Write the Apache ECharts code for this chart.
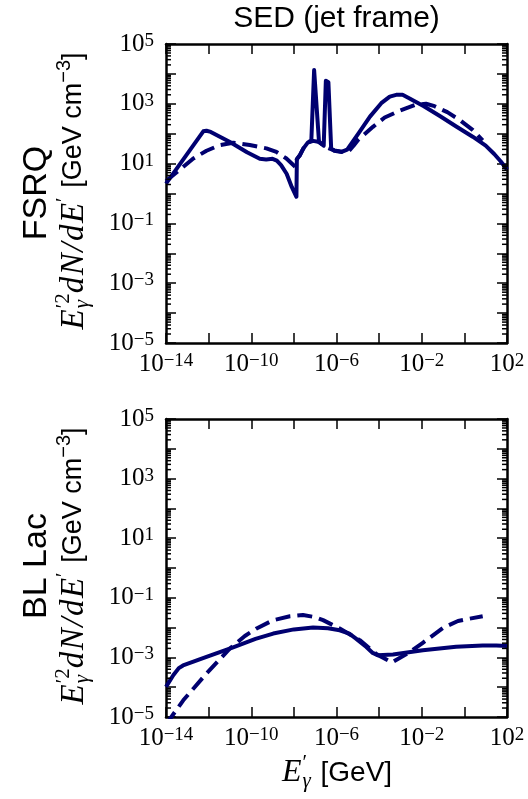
<!DOCTYPE html>
<html><head><meta charset="utf-8">
<script src="https://cdn.jsdelivr.net/npm/echarts@6/dist/echarts.min.js"></script>
<style>html,body{margin:0;padding:0;background:#fff}#c{width:528px;height:799px}</style>
</head><body><div id="c"></div>
<script>
// Values, as log10(E'/GeV) and log10(E'^2 dN/dE' / GeV cm^-3)
const fsrqSolidLogE = [-14, -12.25, -12.1, -11.9, -11.0, -10.2, -9.6, -9.3, -9.0, -8.8, -8.6, -8.34, -8.1, -7.88, -7.86, -7.71, -7.56, -7.35, -7.18, -7.05, -6.97, -6.82, -6.6, -6.5, -6.38, -6.25, -6.1, -5.76, -5.5, -5.0, -4.43, -3.9, -3.5, -3.2, -2.9, -2.57, -1.9, -1.17, -0.4, 0.39, 1.0, 1.4, 1.7, 2.0];
const fsrqSolidLogY = [0.33, 2.08, 2.1, 2.06, 1.72, 1.38, 1.16, 1.14, 1.16, 1.10, 0.95, 0.66, 0.22, -0.11, 1.15, 1.29, 1.5, 1.7, 1.78, 4.13, 4.1, 1.72, 1.6, 3.77, 3.72, 1.5, 1.43, 1.39, 1.47, 1.98, 2.57, 3.02, 3.24, 3.3, 3.3, 3.18, 2.92, 2.6, 2.25, 1.9, 1.6, 1.32, 1.08, 0.8];
const fsrqDashLogE = [-14, -13.34, -12.72, -12.1, -11.47, -10.85, -10.07, -9.29, -8.82, -8.35, -7.93, -7.86, -7.71, -7.56, -7.35, -7.1, -6.8, -6.5, -6.1, -5.76, -5.46, -5.2, -4.99, -4.29, -3.74, -3.04, -2.3, -1.8, -1.4, -0.8, -0.2, 0.4, 0.86];
const fsrqDashLogY = [0.42, 0.8, 1.17, 1.43, 1.62, 1.70, 1.62, 1.51, 1.39, 1.17, 0.89, 1.15, 1.29, 1.5, 1.7, 1.76, 1.72, 1.55, 1.44, 1.4, 1.39, 1.6, 1.79, 2.23, 2.54, 2.77, 2.97, 3.0, 2.92, 2.72, 2.45, 2.12, 1.78];
const bllacSolidLogE = [-14, -13.66, -13.4, -13.2, -12.1, -10.85, -9.8, -8.97, -8.0, -7.1, -6.4, -5.85, -5.4, -5.1, -4.6, -4.3, -4.05, -3.35, -1.95, -0.39, 0.86, 1.5, 2.0];
const bllacSolidLogY = [-3.99, -3.6, -3.36, -3.27, -2.98, -2.66, -2.38, -2.2, -2.06, -2.0, -2.02, -2.09, -2.2, -2.36, -2.65, -2.85, -2.93, -2.9, -2.76, -2.64, -2.6, -2.6, -2.62];
const bllacDashLogE = [-14, -13.19, -12.1, -11.0, -10.3, -9.75, -9.0, -8.19, -7.57, -7.0, -6.63, -5.85, -4.91, -4.13, -3.4, -2.6, -1.95, -1.0, -0.3, 0.24, 0.86];
const bllacDashLogY = [-5.25, -4.44, -3.54, -2.7, -2.28, -2.03, -1.76, -1.62, -1.58, -1.65, -1.75, -2.03, -2.42, -2.89, -3.17, -2.84, -2.51, -2.01, -1.78, -1.70, -1.62];
const xLabelExps = [-14, -10, -6, -2, 2];
const yLabelExps = [-5, -3, -1, 1, 3, 5];
const panelNames = ['FSRQ', 'BL Lac'];
const titleText = 'SED (jet frame)';

const COLOR = '#000070';
const zip = (a, b) => a.map((v, i) => [v, b[i]]);

// minor (log) tick positions on the y axes
const yMinor = [];
for (let n = -5; n < 5; n++) for (let k = 2; k <= 9; k++) yMinor.push(n + Math.log10(k));

const supTxt = v => (v < 0 ? '\u2212' + (-v) : String(v));
const labelRich = {
  b: {fontFamily: '"Liberation Serif"', fontSize: 25, lineHeight: 25, color: '#000'},
  s: {fontFamily: '"Liberation Serif"', fontSize: 19, lineHeight: 12, verticalAlign: 'top', color: '#000'}
};
function xAx(grid, pos, showLabel) {
  return {
    type: 'value', gridIndex: grid, position: pos, min: -14, max: 2, interval: 2,
    axisLine: {show: true, onZero: false, lineStyle: {color: '#000', width: 2.5}},
    axisTick: {show: true, inside: true, length: 10, lineStyle: {color: '#000', width: 1.5}},
    axisLabel: {show: showLabel, margin: 9, showMinLabel: true, showMaxLabel: true,
      formatter: v => xLabelExps.includes(Math.round(v)) ? '{b|10}{s|' + supTxt(Math.round(v)) + '}' : '',
      rich: labelRich},
    splitLine: {show: false}, minorTick: {show: false}, minorSplitLine: {show: false}
  };
}
function yAx(grid, pos, showLabel) {
  return {
    type: 'value', gridIndex: grid, position: pos, min: -5, max: 5, interval: 1,
    axisLine: {show: true, onZero: false, lineStyle: {color: '#000', width: 2.5}},
    axisTick: {show: true, inside: true, length: 10, lineStyle: {color: '#000', width: 1.5}},
    axisLabel: {show: showLabel, margin: 12, showMinLabel: true, showMaxLabel: true,
      formatter: v => yLabelExps.includes(Math.round(v)) ? '{b|10}{s|' + supTxt(Math.round(v)) + '}' : '',
      rich: labelRich},
    splitLine: {show: false}, minorTick: {show: false}, minorSplitLine: {show: false}
  };
}
function lineSeries(xi, data, dashed) {
  return {
    type: 'line', xAxisIndex: xi, yAxisIndex: xi, data: data, symbol: 'none', showSymbol: false,
    smooth: false, clip: true, z: 3, emphasis: {disabled: true},
    lineStyle: {color: COLOR, width: 4, type: dashed ? [15, 7] : 'solid', cap: 'butt', join: 'round'}
  };
}
function minorSeries(xi) {
  return {
    type: 'custom', xAxisIndex: xi, yAxisIndex: xi, silent: true, clip: false, z: 5,
    data: yMinor.map(v => [-14, v]),
    renderItem: (params, api) => {
      const cs = params.coordSys;
      const y = api.coord([api.value(0), api.value(1)])[1];
      const st = {stroke: '#000', lineWidth: 1.5};
      return {type: 'group', children: [
        {type: 'line', shape: {x1: cs.x, y1: y, x2: cs.x + 5, y2: y}, style: st},
        {type: 'line', shape: {x1: cs.x + cs.width - 5, y1: y, x2: cs.x + cs.width, y2: y}, style: st}
      ]};
    }
  };
}

// text layout helper for math-style labels
const mctx = document.createElement('canvas').getContext('2d');
function mathText(parts, cx, cy, rot) {
  let x = 0, mark = 0;
  const kids = [];
  for (const p of parts) {
    if (p.mark) mark = x;
    const start = p.back ? mark : x;
    mctx.font = p.f;
    const w = mctx.measureText(p.t).width;
    kids.push({type: 'text', x: start, y: p.dy || 0,
      style: {text: p.t, font: p.f, fill: '#000', textAlign: 'left', textVerticalAlign: 'middle', align: 'left', verticalAlign: 'middle'}});
    const end = start + w + (p.gap || 0);
    x = p.back ? Math.max(end, x) : end;
  }
  kids.forEach(k => { k.x -= x / 2; });
  return {type: 'group', x: cx, y: cy, rotation: rot, silent: true, children: kids};
}
const M = 33, s = 21, SY = 27, SX = 28;
const serif = '"Liberation Serif", "DejaVu Serif"';
const sans = '"Liberation Sans", Arial';
const mi = `italic ${M}px ${serif}`;
const yLabelParts = [
  {t: 'E', f: mi, gap: 1},
  {t: '\u2032', f: `${s}px ${serif}`, dy: -10, mark: true},
  {t: '2', f: `${s}px ${serif}`, dy: -11},
  {t: '\u03b3', f: `italic ${s}px ${serif}`, dy: 8, back: true, gap: 3},
  {t: 'd', f: mi, gap: 1.5},
  {t: 'N', f: mi, gap: 1.5},
  {t: '/', f: mi, gap: 1.5},
  {t: 'd', f: mi, gap: 1.5},
  {t: 'E', f: mi, gap: 1},
  {t: '\u2032', f: `${s}px ${serif}`, dy: -10, gap: 2},
  {t: ' [GeV cm', f: `${SY}px ${sans}`},
  {t: '\u22123', f: `${s - 1}px ${sans}`, dy: -10},
  {t: ']', f: `${SY}px ${sans}`}
];
const xLabelParts = [
  {t: 'E', f: `italic 32px ${serif}`, gap: 1},
  {t: '\u2032', f: `${s}px ${serif}`, dy: -10, mark: true},
  {t: '\u03b3', f: `italic ${s}px ${serif}`, dy: 8, back: true, gap: 2},
  {t: ' [GeV]', f: `${SX}px ${sans}`}
];

const grids = [{left: 166, top: 44, width: 341, height: 299}, {left: 166, top: 419, width: 341, height: 298}];
const option = {
  animation: false,
  backgroundColor: '#fff',
  grid: grids.map(g => Object.assign({containLabel: false, outerBoundsMode: 'none'}, g)),
  xAxis: [xAx(0, 'bottom', true), xAx(0, 'top', false), xAx(1, 'bottom', true), xAx(1, 'top', false)],
  yAxis: [yAx(0, 'left', true), yAx(0, 'right', false), yAx(1, 'left', true), yAx(1, 'right', false)],
  series: [
    lineSeries(0, zip(fsrqDashLogE, fsrqDashLogY), true),
    lineSeries(0, zip(fsrqSolidLogE, fsrqSolidLogY), false),
    lineSeries(2, zip(bllacDashLogE, bllacDashLogY), true),
    lineSeries(2, zip(bllacSolidLogE, bllacSolidLogY), false),
    minorSeries(0), minorSeries(2)
  ],
  graphic: [
    {type: 'text', x: 336.5, y: 19, silent: true,
      style: {text: titleText, font: `30px ${sans}`, fill: '#000', textAlign: 'center', textVerticalAlign: 'middle', align: 'center', verticalAlign: 'middle'}},
    {type: 'text', x: 37, y: 193, rotation: Math.PI / 2, silent: true,
      style: {text: panelNames[0], font: `34px ${sans}`, fill: '#000', textAlign: 'center', textVerticalAlign: 'middle', align: 'center', verticalAlign: 'middle'}},
    {type: 'text', x: 37, y: 566, rotation: Math.PI / 2, silent: true,
      style: {text: panelNames[1], font: `34px ${sans}`, fill: '#000', textAlign: 'center', textVerticalAlign: 'middle', align: 'center', verticalAlign: 'middle'}},
    mathText(yLabelParts, 74, 191, Math.PI / 2),
    mathText(yLabelParts, 74, 566, Math.PI / 2),
    mathText(xLabelParts, 337, 773, 0)
  ]
};
const chart = echarts.init(document.getElementById('c'), null, {renderer: 'canvas'});
chart.setOption(option);
</script></body></html>
